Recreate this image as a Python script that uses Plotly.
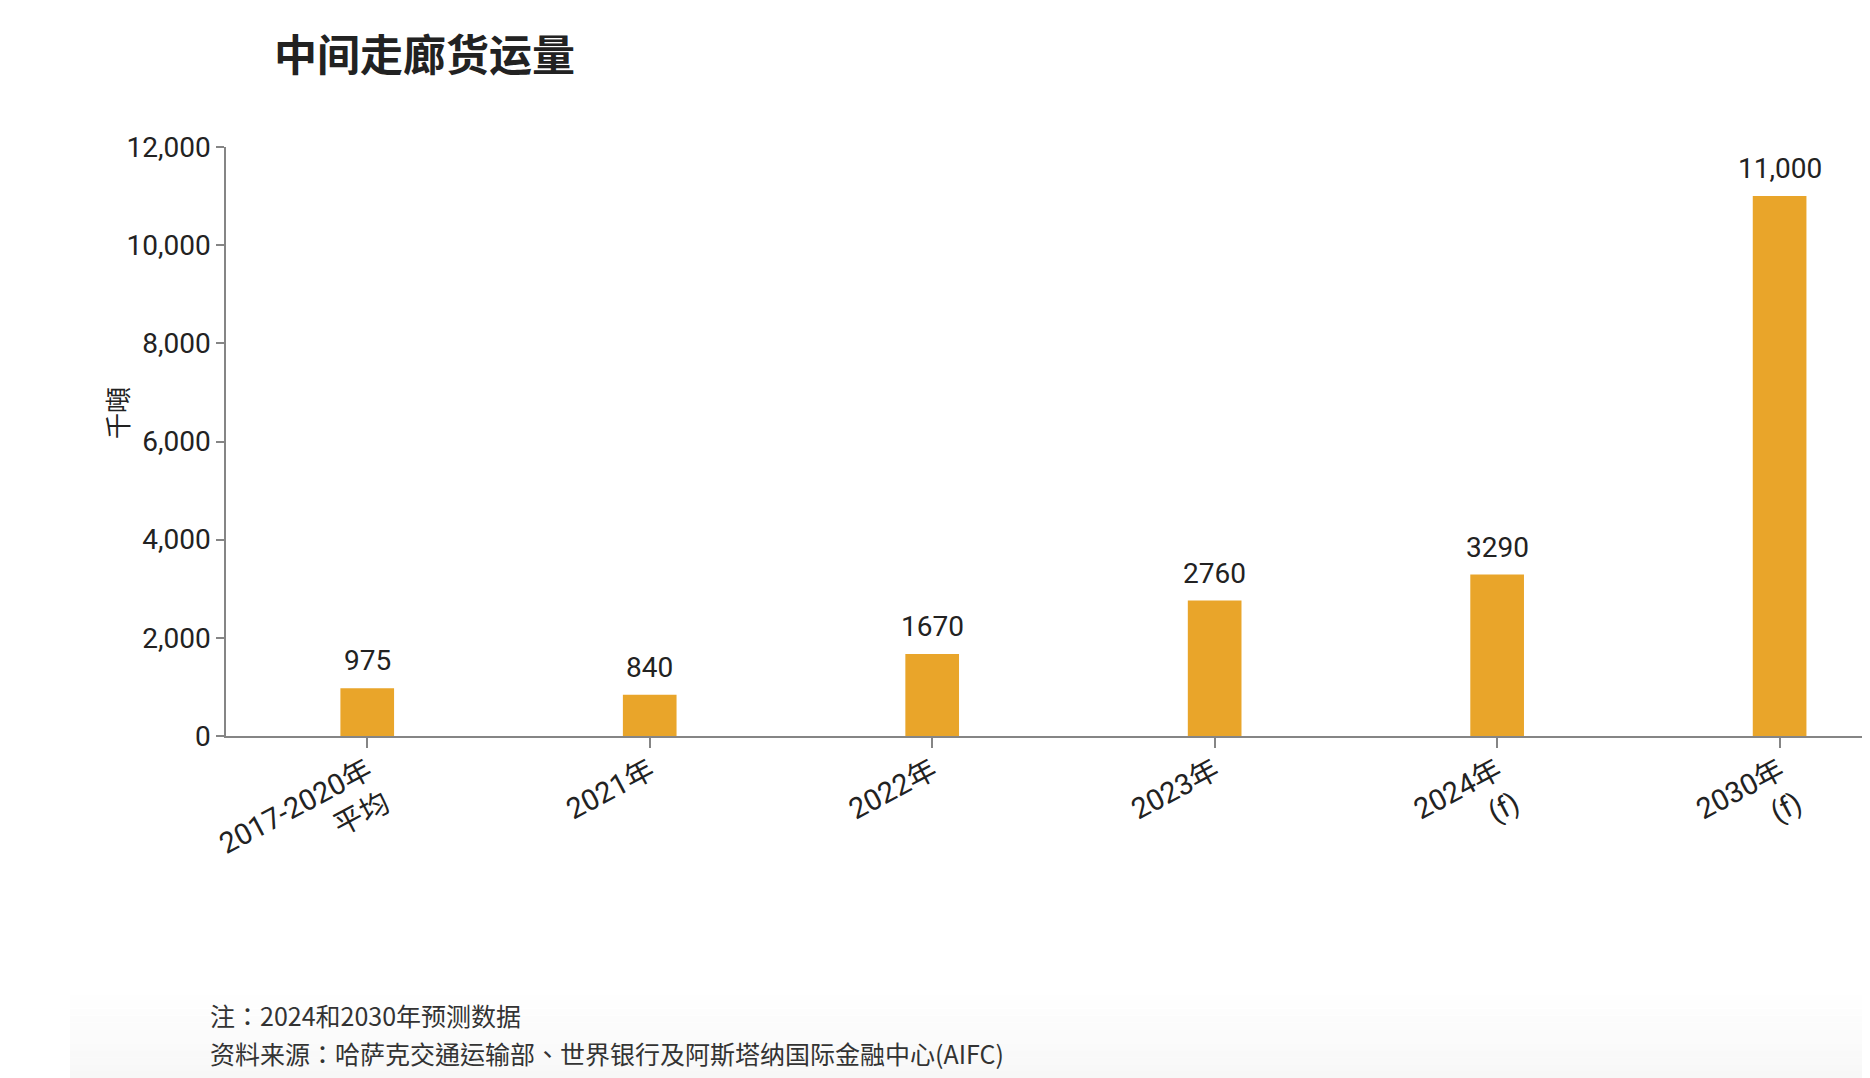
import plotly.graph_objects as go

categories = ["2017-2020年<br>平均", "2021年", "2022年", "2023年", "2024年<br>(f)", "2030年<br>(f)"]
values = [975, 840, 1670, 2760, 3290, 11000]
value_labels = ["975", "840", "1670", "2760", "3290", "11,000"]
y_ticks = [0, 2000, 4000, 6000, 8000, 10000, 12000]
y_tick_labels = ["0", "2,000", "4,000", "6,000", "8,000", "10,000", "12,000"]

title_text = "中间走廊货运量"
y_title = "千噸"
note1 = "注：2024和2030年预测数据"
note2 = "资料来源：哈萨克交通运输部、世界银行及阿斯塔纳国际金融中心(AIFC)"

OFF = 8  # default page body margin
W, H = 1870 - OFF, 1078 - OFF
ML, MR, MT, MB = 226 - OFF, 0, 147 - OFF, 342
PW = W - ML - MR
PH = H - MT - MB

BAR = "#E9A52A"
TXT = "#222222"
AX = "#858585"
FONT = "Roboto, 'Noto Sans CJK SC', sans-serif"
CJK = "'Noto Sans CJK SC', Roboto, sans-serif"
CJK_TC = "'Noto Sans CJK TC', 'Noto Sans CJK SC', sans-serif"

def px(x):
    return (x - OFF - ML) / PW

def py(y):
    return (H - MB - (y - OFF)) / PH

fig = go.Figure()
fig.add_trace(go.Bar(
    x=categories, y=values, marker=dict(color=BAR, line=dict(width=0)),
    width=0.19, hoverinfo="skip", showlegend=False,
))

annotations = []
for c, v, lab in zip(categories, values, value_labels):
    annotations.append(dict(x=c, y=v, xref="x", yref="y", text=lab, showarrow=False,
                            yanchor="bottom", yshift=9,
                            font=dict(family=FONT, size=28, color=TXT)))

annotations.append(dict(x=px(116), y=py(413), xref="paper", yref="paper", text=y_title,
                        showarrow=False, textangle=-90, xanchor="center", yanchor="middle",
                        font=dict(family=CJK, size=26, color=TXT)))
annotations.append(dict(x=px(208), y=py(1015), xref="paper", yref="paper", text=note1,
                        showarrow=False, xanchor="left", yanchor="middle",
                        font=dict(family=CJK_TC, size=25, color="#333333")))
annotations.append(dict(x=px(208), y=py(1053), xref="paper", yref="paper", text=note2,
                        showarrow=False, xanchor="left", yanchor="middle",
                        font=dict(family=CJK_TC, size=25, color="#333333")))

shapes = []
n = 12
top, bot = 995, 1078
for i in range(n):
    y0 = top + (bot - top) * i / n
    y1 = top + (bot - top) * (i + 1) / n
    shapes.append(dict(type="rect", xref="paper", yref="paper", layer="below",
                       x0=px(70), x1=px(1870), y0=py(y1), y1=py(y0),
                       line=dict(width=0), fillcolor="rgba(0,0,0,%.4f)" % (0.03 * (i + 1) / n)))

fig.update_layout(
    width=W, height=H,
    margin=dict(l=ML, r=MR, t=MT, b=MB, pad=0),
    paper_bgcolor="white", plot_bgcolor="white",
    title=dict(text=title_text, x=(274 - OFF) / W, xref="container", xanchor="left",
               y=1 - (56 - OFF) / H, yref="container", yanchor="middle",
               font=dict(family=CJK, size=43, color=TXT, weight=700)),
    annotations=annotations,
    shapes=shapes,
    bargap=0.81,
)
fig.update_xaxes(
    type="category", range=[-0.5, 5.32],
    showline=True, linecolor=AX, linewidth=1.5,
    ticks="outside", ticklen=10, tickcolor=AX, tickwidth=1.5,
    tickangle=-28, showgrid=False, zeroline=False, ticklabelstandoff=-5,
    tickfont=dict(family=FONT, size=29, color=TXT),
)
fig.update_yaxes(
    range=[0, 12000], tickvals=y_ticks, ticktext=y_tick_labels,
    showline=True, linecolor=AX, linewidth=1.5,
    ticks="outside", ticklen=8, tickcolor=AX, tickwidth=1.5,
    showgrid=False, zeroline=False,
    tickfont=dict(family=FONT, size=28, color=TXT),
)

fig.write_html("out.html")
